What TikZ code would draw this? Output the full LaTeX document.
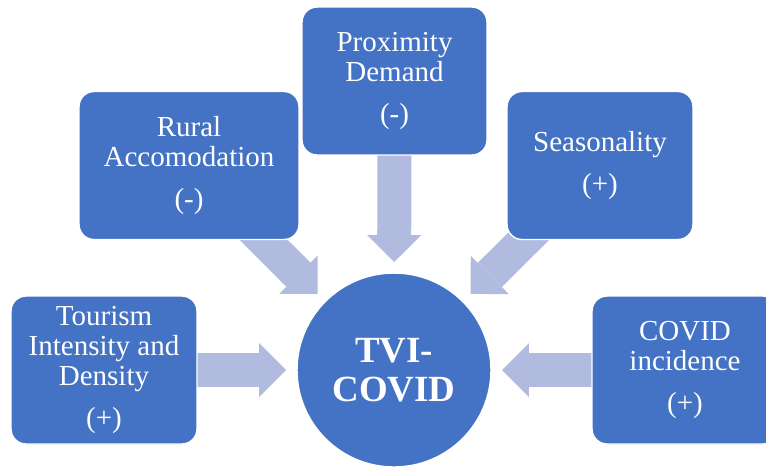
\documentclass[tikz,border=0pt]{standalone}
\usepackage{fontspec}
\setmainfont{Liberation Serif}
\usetikzlibrary{arrows.meta,backgrounds,positioning}
\definecolor{boxblue}{HTML}{4472C4}
\definecolor{arrowblue}{HTML}{B0BBDF}

\begin{document}
\begin{tikzpicture}[x=0.02cm,y=-0.02cm,
    factor/.style={rectangle,rounded corners=0.3cm,fill=boxblue,draw=white,line width=0.8pt,text=white,align=center,minimum width=3.72cm,minimum height=2.96cm,inner sep=0pt,font=\fontsize{16.5}{17}\selectfont},
    flow/.style={draw=arrowblue,line width=0.68cm,-{Triangle[width=1.08cm,length=0.54cm,line width=0pt]},shorten >=2.16cm}]

    \useasboundingbox (0,0) rectangle (766,468);
    \clip (0,0) rectangle (766,468);

    % factors round the index
    \node[factor] (tourism) at (104,370) {Tourism\\Intensity and\\Density\\[0.23cm](+)};
    \node[factor,minimum width=4.4cm] (rural) at (189,165.5) {Rural\\Accomodation\\[0.23cm](-)};
    \node[factor,minimum width=3.7cm] (prox) at (394.5,81) {Proximity\\Demand\\[0.23cm](-)};
    \node[factor] (season) at (600,165.5) {Seasonality\\[0.23cm](+)};
    \node[factor] (covid) at (685,370) {COVID\\incidence\\[0.23cm](+)};

    \node[circle,fill=boxblue,draw=white,line width=0.8pt,minimum size=3.88cm,inner sep=0pt,text=white,align=center,font=\fontsize{21}{22}\selectfont\bfseries] (tvi) at (394,370) {TVI-\\COVID};

    % block arrows behind the boxes
    \begin{scope}[on background layer]
        \draw[flow] (tourism.center) -- (tvi.center);
        \draw[flow] (rural.center) -- (tvi.center);
        \draw[flow] (prox.center) -- (tvi.center);
        \draw[flow] (season.center) -- (tvi.center);
        \draw[flow] (covid.center) -- (tvi.center);
    \end{scope}

\end{tikzpicture}
\end{document}
